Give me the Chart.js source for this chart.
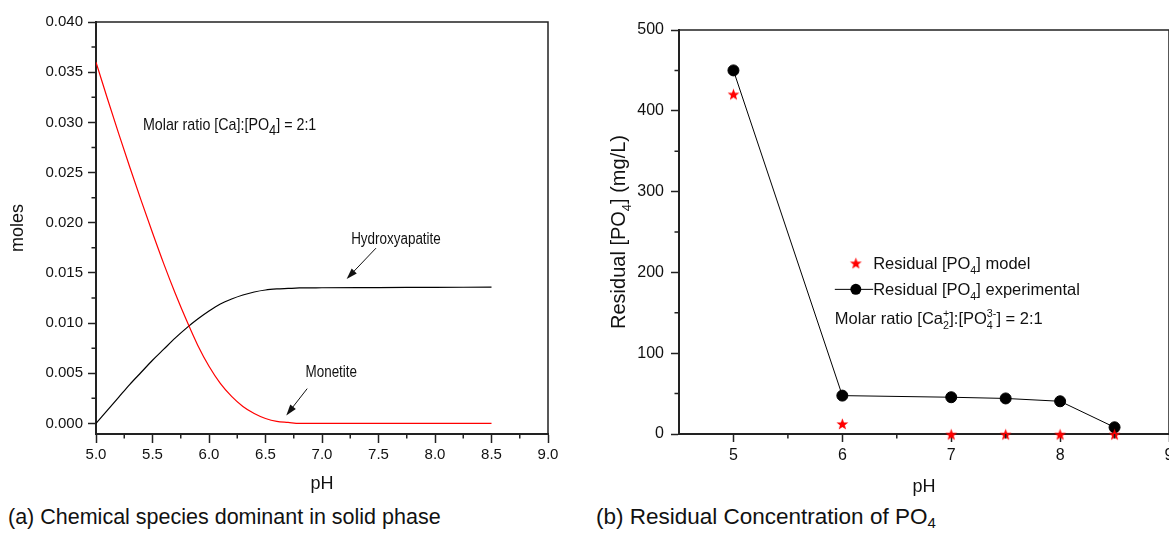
<!DOCTYPE html>
<html>
<head>
<meta charset="utf-8">
<script src="https://cdn.jsdelivr.net/npm/chart.js@4.4.1/dist/chart.umd.min.js"></script>
<style>
  html, body { margin: 0; padding: 0; background: #fff; }
  body { width: 1169px; height: 533px; overflow: hidden; position: relative; font-family: 'Liberation Sans', Arial, sans-serif; }
  #wrapA { position: absolute; left: 0; top: 0; width: 580px; height: 500px; }
  #wrapB { position: absolute; left: 580px; top: 0; width: 640px; height: 500px; }
  .caption { position: absolute; top: 504px; font-size: 21.5px; line-height: 26px; color: #111; white-space: nowrap; }
  .caption sub { font-size: 15px; vertical-align: -4px; line-height: 0; }
</style>
</head>
<body>
<div id="wrapA"><canvas id="speciesChart" width="580" height="500"></canvas></div>
<div id="wrapB"><canvas id="residualChart" width="640" height="500"></canvas></div>
<div class="caption" style="left:8px">(a) Chemical species dominant in solid phase</div>
<div class="caption" style="left:596px; font-size:22.5px">(b) Residual Concentration of PO<sub>4</sub></div>

<script>
// (a) solid phase species vs pH
const phGrid = [5.0, 5.1, 5.2, 5.3, 5.4, 5.5, 5.6, 5.7, 5.8, 5.9, 6.0, 6.1, 6.2, 6.3, 6.4, 6.5, 6.6, 6.7, 6.8, 7.0, 7.5, 8.0, 8.5];
const monetite = [0.0360, 0.0324, 0.0289, 0.0255, 0.0222, 0.0190, 0.0159, 0.0130, 0.0103, 0.0078, 0.0057, 0.0040, 0.0027, 0.0017, 0.0010, 0.0005, 0.0002, 0.0001, 0.0000, 0, 0, 0, 0];
const hydroxyapatite = [0, 0.0013, 0.0026, 0.0039, 0.0051, 0.0063, 0.0074, 0.0085, 0.0095, 0.0104, 0.0112, 0.0119, 0.0124, 0.0128, 0.0131, 0.0133, 0.0134, 0.01345, 0.0135, 0.01352, 0.01354, 0.01356, 0.01358];
const speciesXTicks = [5.0, 5.5, 6.0, 6.5, 7.0, 7.5, 8.0, 8.5, 9.0];
const speciesYTicks = [0, 0.005, 0.010, 0.015, 0.020, 0.025, 0.030, 0.035, 0.040];

// (b) residual PO4
const phMeasured = [5, 6, 7, 7.5, 8, 8.5];
const residualModel = [421, 13, 0, 0, 0, 0];
const residualExperimental = [450, 47.5, 45.5, 44, 40.5, 8.3];
const residualXTicks = [5, 6, 7, 8, 9];
const residualYTicks = [0, 100, 200, 300, 400, 500];

const FAMILY = "'Liberation Sans', Arial, sans-serif";
const INK = '#111';
const AXIS = '#222';

Chart.defaults.font.family = FAMILY;
Chart.defaults.color = INK;

const toPoints = (xs, ys) => xs.map((x, i) => ({ x, y: ys[i] }));

// text with optional sub/superscripts, left aligned at baseline y
function drawRich(ctx, parts, x, y, size, subScale, subDrop) {
  const small = size * (subScale || 0.65);
  const drop = size * (subDrop || 0.3);
  let cx = x;
  ctx.textAlign = 'left';
  ctx.textBaseline = 'alphabetic';
  parts.forEach(p => {
    if (typeof p === 'string') {
      ctx.font = `${size}px ${FAMILY}`;
      ctx.fillText(p, cx, y);
      cx += ctx.measureText(p).width;
    } else {
      ctx.font = `${small}px ${FAMILY}`;
      let w = 0;
      if (p.sub) {
        ctx.fillText(p.sub, cx, y + drop);
        w = Math.max(w, ctx.measureText(p.sub).width);
      }
      if (p.sup) {
        ctx.fillText(p.sup, cx, y - size * 0.42);
        w = Math.max(w, ctx.measureText(p.sup).width);
      }
      cx += w;
    }
  });
  return cx - x;
}

function measureRich(ctx, parts, size, subScale) {
  const small = size * (subScale || 0.65);
  let w = 0;
  parts.forEach(p => {
    if (typeof p === 'string') {
      ctx.font = `${size}px ${FAMILY}`;
      w += ctx.measureText(p).width;
    } else {
      ctx.font = `${small}px ${FAMILY}`;
      w += Math.max(p.sub ? ctx.measureText(p.sub).width : 0, p.sup ? ctx.measureText(p.sup).width : 0);
    }
  });
  return w;
}

function makeStar(color, r) {
  const c = document.createElement('canvas');
  const s = Math.ceil(r * 2 + 2);
  c.width = c.height = s;
  const g = c.getContext('2d');
  g.fillStyle = color;
  g.beginPath();
  for (let i = 0; i < 10; i++) {
    const rad = i % 2 === 0 ? r : r * 0.42;
    const a = -Math.PI / 2 + i * Math.PI / 5;
    const px = s / 2 + rad * Math.cos(a);
    const py = s / 2 + 1 + rad * Math.sin(a);
    if (i === 0) g.moveTo(px, py); else g.lineTo(px, py);
  }
  g.closePath();
  g.fill();
  return c;
}
const redStar = makeStar('#ff0000', 6.2);

// box around the plot area
const framePlugin = {
  id: 'frame',
  beforeDatasetsDraw(chart) {
    const { ctx, chartArea: a } = chart;
    ctx.save();
    ctx.strokeStyle = AXIS;
    ctx.lineWidth = 1.5;
    ctx.beginPath();
    ctx.moveTo(a.left, a.top);
    ctx.lineTo(a.right, a.top);
    ctx.lineTo(a.right, a.bottom);
    ctx.stroke();
    ctx.restore();
  }
};

// short unlabeled ticks between the major ones
const minorTickPlugin = {
  id: 'minorTicks',
  afterDraw(chart, args, opts) {
    const { ctx, scales } = chart;
    ctx.save();
    ctx.strokeStyle = AXIS;
    ctx.lineWidth = 1.5;
    ctx.beginPath();
    (opts.x || []).forEach(v => {
      const px = scales.x.getPixelForValue(v);
      ctx.moveTo(px, scales.x.top);
      ctx.lineTo(px, scales.x.top + opts.len);
    });
    (opts.y || []).forEach(v => {
      const py = scales.y.getPixelForValue(v);
      ctx.moveTo(scales.y.right, py);
      ctx.lineTo(scales.y.right - opts.len, py);
    });
    ctx.stroke();
    ctx.restore();
  }
};

function arrow(ctx, x1, y1, x2, y2) {
  const ang = Math.atan2(y2 - y1, x2 - x1);
  const head = 11, half = 3.5;
  ctx.beginPath();
  ctx.moveTo(x1, y1);
  ctx.lineTo(x2 - Math.cos(ang) * head * 0.8, y2 - Math.sin(ang) * head * 0.8);
  ctx.stroke();
  ctx.beginPath();
  ctx.moveTo(x2, y2);
  ctx.lineTo(x2 - Math.cos(ang) * head - Math.sin(ang) * half, y2 - Math.sin(ang) * head + Math.cos(ang) * half);
  ctx.lineTo(x2 - Math.cos(ang) * head + Math.sin(ang) * half, y2 - Math.sin(ang) * head - Math.cos(ang) * half);
  ctx.closePath();
  ctx.fill();
}

// labels and arrows on panel (a), placed in data units
const speciesNotes = {
  id: 'speciesNotes',
  afterDatasetsDraw(chart) {
    const { ctx, scales: { x, y } } = chart;
    const narrow = (parts, px, py, size, sub, drop) => {
      ctx.save();
      ctx.translate(x.getPixelForValue(px), y.getPixelForValue(py) + size * 0.35);
      ctx.scale(0.84, 1);
      drawRich(ctx, parts, 0, 0, size, sub, drop);
      ctx.restore();
    };
    ctx.save();
    ctx.fillStyle = INK;
    ctx.strokeStyle = INK;
    ctx.lineWidth = 1;
    narrow(['Molar ratio [Ca]:[PO', { sub: '4' }, '] = 2:1'], 5.415, 0.0298, 17, 0.9, 0.3);
    narrow(['Hydroxyapatite'], 7.258, 0.0184, 16);
    narrow(['Monetite'], 6.854, 0.00523, 16);
    arrow(ctx, x.getPixelForValue(7.478), y.getPixelForValue(0.01747), x.getPixelForValue(7.218), y.getPixelForValue(0.0144));
    arrow(ctx, x.getPixelForValue(6.869), y.getPixelForValue(0.00347), x.getPixelForValue(6.684), y.getPixelForValue(0.0008));
    ctx.restore();
  }
};

// in-plot legend, ratio note and the y title with subscript on panel (b)
const residualNotes = {
  id: 'residualNotes',
  afterDatasetsDraw(chart) {
    const { ctx, scales: { x, y } } = chart;
    const model = chart.data.datasets[0];
    const expt = chart.data.datasets[1];
    const size = 16.5;
    ctx.save();
    ctx.fillStyle = INK;

    // row 1: model
    const r1 = y.getPixelForValue(212);
    const sx = x.getPixelForValue(6.124);
    ctx.drawImage(model.pointStyle, sx - model.pointStyle.width / 2, r1 - model.pointStyle.height / 2);
    drawRich(ctx, ['Residual [PO', { sub: '4' }, '] model'], x.getPixelForValue(6.283), r1 + 6, size);

    // row 2: experimental
    const r2 = y.getPixelForValue(179);
    ctx.strokeStyle = expt.borderColor;
    ctx.lineWidth = 1;
    ctx.beginPath();
    ctx.moveTo(x.getPixelForValue(5.931), r2);
    ctx.lineTo(x.getPixelForValue(6.283), r2);
    ctx.stroke();
    ctx.fillStyle = expt.pointBackgroundColor;
    ctx.beginPath();
    ctx.arc(sx, r2, expt.pointRadius, 0, Math.PI * 2);
    ctx.fill();
    ctx.fillStyle = INK;
    drawRich(ctx, ['Residual [PO', { sub: '4' }, '] experimental'], x.getPixelForValue(6.283), r2 + 6, size);

    // row 3: ratio
    drawRich(ctx, ['Molar ratio [Ca', { sub: '2', sup: '+' }, ']:[PO', { sub: '4', sup: '3-' }, '] = 2:1'],
      x.getPixelForValue(5.931), y.getPixelForValue(144) + 6, size);

    // y axis title
    const title = ['Residual [PO', { sub: '4' }, '] (mg/L)'];
    const tw = measureRich(ctx, title, 20);
    ctx.translate(45, (y.top + y.bottom) / 2);
    ctx.rotate(-Math.PI / 2);
    drawRich(ctx, title, -tw / 2, 0, 20);
    ctx.restore();
  }
};

const axisCommon = {
  grid: { drawOnChartArea: false, tickColor: AXIS, tickWidth: 1.5, tickLength: 8 },
  border: { color: AXIS, width: 2 }
};

new Chart(document.getElementById('speciesChart'), {
  type: 'line',
  data: {
    datasets: [
      { label: 'Monetite', data: toPoints(phGrid, monetite), borderColor: '#ff0000', borderWidth: 1.2, pointRadius: 0, cubicInterpolationMode: 'monotone' },
      { label: 'Hydroxyapatite', data: toPoints(phGrid, hydroxyapatite), borderColor: '#000', borderWidth: 1.2, pointRadius: 0, cubicInterpolationMode: 'monotone' }
    ]
  },
  options: {
    responsive: false,
    animation: false,
    layout: { padding: { top: 22, right: 32, left: 0, bottom: 0 } },
    plugins: {
      legend: { display: false },
      tooltip: { enabled: false },
      minorTicks: { len: 4.5, x: [5.25, 5.75, 6.25, 6.75, 7.25, 7.75, 8.25, 8.75], y: [0.0025, 0.0075, 0.0125, 0.0175, 0.0225, 0.0275, 0.0325, 0.0375] }
    },
    scales: {
      x: {
        type: 'linear', min: 5, max: 9,
        afterBuildTicks: s => { s.ticks = speciesXTicks.map(v => ({ value: v })); },
        afterFit: s => { s.height = 66; },
        ticks: { callback: v => v.toFixed(1), padding: 3, font: { size: 15 }, maxRotation: 0, autoSkip: false },
        grid: { ...axisCommon.grid, tickLength: 9 },
        border: axisCommon.border,
        title: { display: true, text: 'pH', font: { size: 18 }, padding: { top: 0, bottom: 5 } }
      },
      y: {
        min: -0.00105, max: 0.04,
        afterBuildTicks: s => { s.ticks = speciesYTicks.map(v => ({ value: v })); },
        afterFit: s => { s.width = 96; },
        ticks: { callback: v => v.toFixed(3), padding: 5, font: { size: 15 }, autoSkip: false },
        grid: axisCommon.grid,
        border: axisCommon.border,
        title: { display: true, text: 'moles', font: { size: 18 }, padding: { top: 7, bottom: 0 } }
      }
    }
  },
  plugins: [framePlugin, minorTickPlugin, speciesNotes]
});

new Chart(document.getElementById('residualChart'), {
  type: 'line',
  data: {
    datasets: [
      { label: 'Residual [PO4] model', data: toPoints(phMeasured, residualModel), showLine: false, pointStyle: redStar, pointRadius: 6, borderColor: '#ff0000', backgroundColor: '#ff0000', clip: false },
      { label: 'Residual [PO4] experimental', data: toPoints(phMeasured, residualExperimental), borderColor: '#000', borderWidth: 1, pointRadius: 5.5, pointBackgroundColor: '#000', pointBorderColor: '#000', tension: 0, clip: false }
    ]
  },
  options: {
    responsive: false,
    animation: false,
    layout: { padding: { top: 30, right: 51, left: 0, bottom: 0 } },
    plugins: {
      legend: { display: false },
      tooltip: { enabled: false },
      minorTicks: { len: 4.5, x: [5.5, 6.5, 7.5, 8.5], y: [50, 150, 250, 350, 450] }
    },
    scales: {
      x: {
        type: 'linear', min: 4.5, max: 9,
        afterBuildTicks: s => { s.ticks = residualXTicks.map(v => ({ value: v })); },
        afterFit: s => { s.height = 66; },
        ticks: { callback: v => String(v), padding: 4, font: { size: 16 }, maxRotation: 0, autoSkip: false },
        grid: axisCommon.grid,
        border: axisCommon.border,
        title: { display: true, text: 'pH', font: { size: 18 }, padding: { top: 0, bottom: 2 } }
      },
      y: {
        min: 0, max: 500,
        afterBuildTicks: s => { s.ticks = residualYTicks.map(v => ({ value: v })); },
        afterFit: s => { s.width = 99; },
        ticks: { callback: v => String(v), padding: 7, font: { size: 16 }, autoSkip: false },
        grid: axisCommon.grid,
        border: axisCommon.border,
        title: { display: false }
      }
    }
  },
  plugins: [framePlugin, minorTickPlugin, residualNotes]
});
</script>
</body>
</html>
